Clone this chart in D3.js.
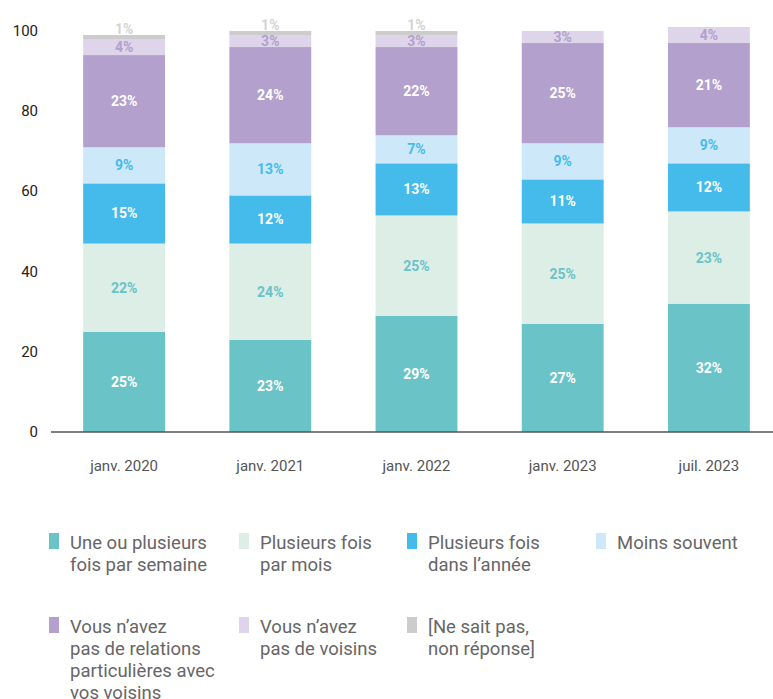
<!DOCTYPE html>
<html lang="fr">
<head>
<meta charset="utf-8">
<script src="https://cdn.jsdelivr.net/npm/d3@7/dist/d3.min.js"></script>
<style>
  html, body { margin: 0; padding: 0; background: #fff; }
  svg { display: block; font-family: Roboto, "Noto Sans", sans-serif; }
</style>
</head>
<body>
<svg id="chart" width="773" height="699"></svg>
<script>
// Periods of the survey
const periods = ["janv. 2020", "janv. 2021", "janv. 2022", "janv. 2023", "juil. 2023"];

// Answer categories, bottom to top of each stack
const seriesKeys = ["semaine", "mois", "annee", "moins", "relations", "voisins", "nsp"];
const seriesLabels = [
  ["Une ou plusieurs", "fois par semaine"],
  ["Plusieurs fois", "par mois"],
  ["Plusieurs fois", "dans l\u2019ann\u00e9e"],
  ["Moins souvent"],
  ["Vous n\u2019avez", "pas de relations", "particuli\u00e8res avec", "vos voisins"],
  ["Vous n\u2019avez", "pas de voisins"],
  ["[Ne sait pas,", "non r\u00e9ponse]"]
];

// Share of respondents (%) per period
const semaine   = [25, 23, 29, 27, 32];
const mois      = [22, 24, 25, 25, 23];
const annee     = [15, 12, 13, 11, 12];
const moins     = [9, 13, 7, 9, 9];
const relations = [23, 24, 22, 25, 21];
const voisins   = [4, 3, 3, 3, 4];
const nsp       = [1, 1, 1, 0, 0];

const yTicks = [0, 20, 40, 60, 80, 100];

const fills      = ["#6AC3C6", "#DCEEE6", "#45BBEB", "#CDE8F9", "#B3A0CD", "#DED5EB", "#CCCCCC"];
const labelFills = ["#FFFFFF", "#6AC3C6", "#FFFFFF", "#45BBEB", "#FFFFFF", "#B3A0CD", "#D4D4D4"];

const rows = periods.map((p, i) => ({
  period: p,
  semaine: semaine[i], mois: mois[i], annee: annee[i], moins: moins[i],
  relations: relations[i], voisins: voisins[i], nsp: nsp[i]
}));

const svg = d3.select("#chart");

const x = d3.scaleBand()
  .domain(periods)
  .range([51, 782])
  .paddingInner(0.44)
  .paddingOuter(0.22);

const y = d3.scaleLinear().domain([0, 100]).range([432, 31]);

const stacked = d3.stack().keys(seriesKeys)(rows);

// Bars and value labels
const layers = svg.append("g").selectAll("g")
  .data(stacked)
  .join("g")
  .attr("fill", (d, i) => fills[i]);

layers.selectAll("rect")
  .data(d => d.filter(s => s[1] - s[0] > 0))
  .join("rect")
  .attr("x", d => x(d.data.period))
  .attr("width", x.bandwidth())
  .attr("y", d => y(d[1]))
  .attr("height", d => y(d[0]) - y(d[1]));

stacked.forEach((layer, i) => {
  svg.append("g")
    .selectAll("text")
    .data(layer.filter(s => s[1] - s[0] > 0))
    .join("text")
    .attr("x", d => x(d.data.period) + x.bandwidth() / 2)
    .attr("y", d => {
      const h = y(d[0]) - y(d[1]);
      return h < 10 ? y(d[1]) - 1 : (y(d[0]) + y(d[1])) / 2 + 5;
    })
    .attr("text-anchor", "middle")
    .attr("font-size", 14)
    .attr("font-weight", 700)
    .attr("fill", labelFills[i])
    .text(d => (d[1] - d[0]) + "%");
});

// Y axis labels
svg.append("g")
  .selectAll("text")
  .data(yTicks)
  .join("text")
  .attr("x", 38)
  .attr("y", d => y(d) + 5)
  .attr("text-anchor", "end")
  .attr("font-size", 15)
  .attr("fill", "#222")
  .text(d => d);

// Baseline
svg.append("line")
  .attr("x1", 51).attr("x2", 773)
  .attr("y1", y(0)).attr("y2", y(0))
  .attr("stroke", "#555")
  .attr("stroke-width", 1.5);

// X axis labels
svg.append("g")
  .selectAll("text")
  .data(periods)
  .join("text")
  .attr("x", d => x(d) + x.bandwidth() / 2)
  .attr("y", 471)
  .attr("text-anchor", "middle")
  .attr("font-size", 15)
  .attr("fill", "#555")
  .text(d => d);

// Legend: 4 columns, 2 rows
const colX = [49, 239, 407, 596];
const rowY = [549, 633];
const legend = svg.append("g")
  .selectAll("g")
  .data(seriesKeys)
  .join("g")
  .attr("transform", (d, i) => `translate(${colX[i % 4]},${rowY[Math.floor(i / 4)]})`);

legend.append("rect")
  .attr("x", 0).attr("y", -16)
  .attr("width", 10).attr("height", 16)
  .attr("fill", (d, i) => fills[i]);

legend.append("text")
  .attr("x", 21)
  .attr("font-size", 18.5)
  .attr("fill", "#666")
  .selectAll("tspan")
  .data((d, i) => seriesLabels[i])
  .join("tspan")
  .attr("x", 21)
  .attr("dy", (d, j) => j === 0 ? 0 : 22)
  .text(d => d);
</script>
</body>
</html>
